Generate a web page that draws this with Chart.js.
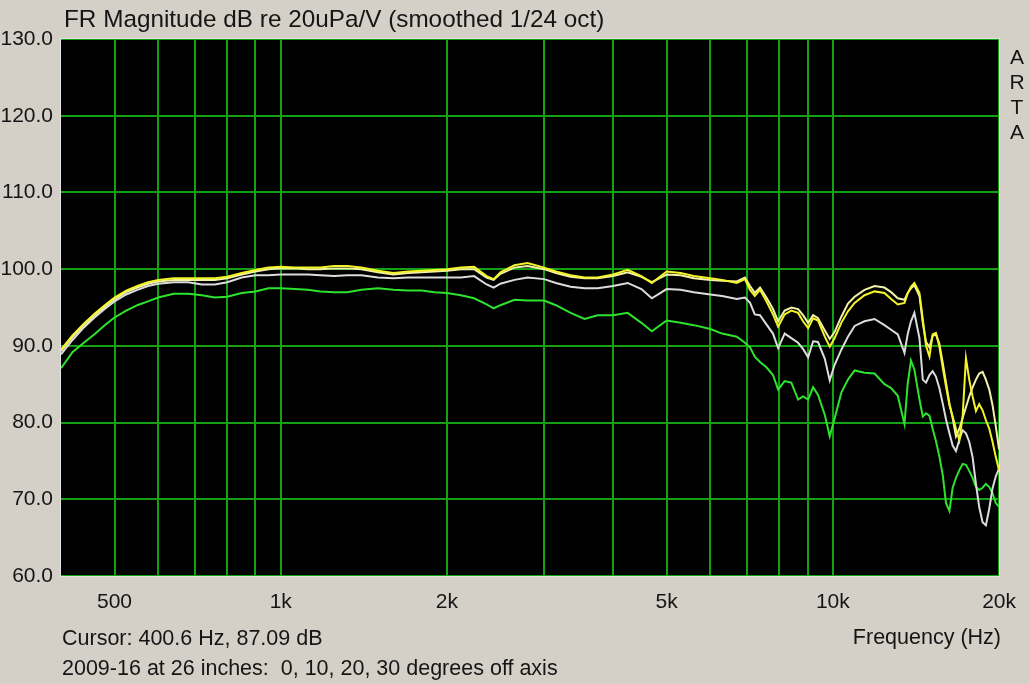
<!DOCTYPE html>
<html><head><meta charset="utf-8">
<script src="https://cdn.jsdelivr.net/npm/chart.js@4/dist/chart.umd.min.js"></script>
<style>
html,body{margin:0;padding:0;background:#d4d0c8;}
#wrap{position:relative;width:1030px;height:684px;overflow:hidden;font-family:"Liberation Sans",Arial,sans-serif;color:#151515;}
canvas{position:absolute;left:0;top:0;}
.t{position:absolute;white-space:pre;line-height:1;}
</style></head><body>
<div id="wrap">
<canvas id="c" width="1030" height="684"></canvas>
<div class="t" style="left:64px;top:7px;font-size:24.3px">FR Magnitude dB re 20uPa/V (smoothed 1/24 oct)</div>
<div class="t" style="left:1008px;top:44px;font-size:21px;line-height:25px;text-align:center;width:18px">A<br>R<br>T<br>A</div>
<div class="t" style="left:62px;top:628px;font-size:21.5px">Cursor: 400.6 Hz, 87.09 dB</div>
<div class="t" style="right:29px;top:627px;font-size:21.5px">Frequency (Hz)</div>
<div class="t" style="left:62px;top:658px;font-size:21.5px">2009-16 at 26 inches:  0, 10, 20, 30 degrees off axis</div>
</div>
<script>
const freqs = [400,420,440,460,480,500,525,550,575,600,640,680,720,760,800,850,900,950,1000,
1060,1120,1180,1250,1320,1400,1500,1600,1700,1800,1900,2000,
2120,2240,2360,2430,2500,2650,2800,3000,3150,3350,3550,3750,4000,
4250,4500,4700,5000,5300,5600,6000,6300,6700,
6930,7080,7220,7380,7580,7790,7960,8180,8410,8650,
8830,9020,9210,9400,9670,9870,10070,10360,10650,10950,
11410,11900,12400,12750,13110,13480,13660,13850,14050,14350,
14550,14750,14960,15160,15370,15590,15810,16030,16260,16480,
16710,16950,17180,17420,17660,17910,18160,18410,18670,18930,
19200,19460,19730,20000];

const deg0 = [89.5,91.4,92.9,94.2,95.3,96.3,97.2,97.8,98.3,98.6,98.8,98.8,98.8,98.8,99.0,99.5,99.9,100.2,100.3,
100.2,100.2,100.2,100.4,100.4,100.2,99.8,99.5,99.7,99.8,99.9,100.0,
100.2,100.3,99.1,98.7,99.6,100.5,100.8,100.2,99.7,99.2,98.9,98.9,99.3,
99.9,99.1,98.2,99.7,99.5,99.1,98.8,98.6,98.2,
98.7,97.3,96.5,97.3,95.8,94.1,92.5,94.1,94.6,94.3,
93.2,92.3,93.6,93.3,91.2,89.9,91.0,93.0,94.5,95.6,
96.6,97.1,96.9,96.1,95.4,95.6,96.8,97.7,98.2,96.9,
93.5,90.0,88.6,91.5,91.7,89.9,87.2,84.7,82.3,80.8,
79.2,77.7,80.8,88.4,85.6,83.4,81.5,82.4,81.6,80.3,
79.2,77.5,75.5,73.8];

const deg10 = [89.3,91.2,92.7,94.0,95.1,96.1,97.0,97.6,98.1,98.4,98.6,98.6,98.6,98.6,98.8,99.3,99.7,100.0,100.1,
100.1,100.0,100.0,100.1,100.1,100.0,99.6,99.3,99.5,99.6,99.7,99.8,
100.0,100.0,98.9,98.6,99.4,100.2,100.4,100.0,99.5,99.0,98.8,98.8,99.1,
99.6,99.0,98.3,99.3,99.2,98.8,98.6,98.5,98.4,
98.9,97.8,96.9,97.6,96.3,94.8,93.2,94.6,95.0,94.8,
94.0,93.0,94.0,93.6,92.0,90.9,91.8,93.8,95.5,96.4,
97.3,97.8,97.6,97.0,96.2,96.0,96.9,97.5,97.9,96.5,
93.0,90.5,89.8,91.3,91.5,90.3,87.8,85.2,82.5,80.6,
78.2,79.2,80.6,82.0,83.4,84.6,85.6,86.4,86.6,85.6,
84.3,82.3,79.5,76.5];

const deg20 = [88.9,90.8,92.4,93.7,94.8,95.8,96.7,97.3,97.8,98.1,98.3,98.3,98.0,98.0,98.3,98.9,99.2,99.2,99.3,
99.3,99.3,99.2,99.1,99.2,99.2,98.9,98.8,98.9,98.9,98.9,98.9,
98.9,99.1,98.0,97.6,98.1,98.6,98.9,98.7,98.2,97.7,97.5,97.5,97.8,
98.2,97.4,96.2,97.4,97.3,97.0,96.7,96.5,96.1,
96.3,95.6,94.1,94.0,92.8,91.6,89.7,91.6,91.0,90.4,
89.6,88.5,90.6,90.5,88.3,85.5,87.5,89.5,91.2,92.6,
93.2,93.5,92.7,92.1,91.5,89.1,91.5,93.2,94.3,91.0,
85.6,85.2,86.2,86.7,86.0,84.5,82.5,80.4,78.6,77.0,
76.3,77.8,79.0,78.6,77.5,75.5,72.0,69.0,67.0,66.6,
68.8,71.4,73.0,74.0];

const deg30 = [87.1,89.2,90.4,91.5,92.7,93.7,94.6,95.3,95.8,96.3,96.8,96.8,96.6,96.3,96.4,96.9,97.1,97.5,97.5,
97.4,97.3,97.1,97.0,97.0,97.3,97.5,97.3,97.2,97.2,97.0,96.9,
96.6,96.2,95.4,94.9,95.3,96.0,95.9,95.9,95.3,94.3,93.5,94.0,94.0,
94.3,93.0,91.9,93.3,93.0,92.7,92.2,91.6,91.2,
90.4,89.8,88.6,87.9,87.2,86.2,84.3,85.4,85.2,83.0,
83.4,83.0,84.6,83.6,81.0,78.2,80.5,83.9,85.6,86.8,
86.5,86.4,85.0,84.5,83.5,79.8,85.0,88.1,86.9,83.0,
80.8,81.2,80.9,79.2,77.6,75.6,73.2,69.5,68.5,71.5,
72.8,73.8,74.6,74.5,73.7,72.8,71.6,71.2,71.5,72.0,
71.6,70.8,69.5,69.0];

const seriesNames = ['0 deg','10 deg','20 deg','30 deg'];
const seriesColors = ['#f4f428','#f2f2a8','#dcdcdc','#2ee22e'];
const yTickValues = [60,70,80,90,100,110,120,130];
const xGridValues = [500,600,700,800,900,1000,2000,3000,4000,5000,6000,7000,8000,9000,10000,20000];
const xTickLabels = {500:'500',1000:'1k',2000:'2k',5000:'5k',10000:'10k',20000:'20k'};
const gridColor = '#13a013';

const allSeries = [deg0, deg10, deg20, deg30];
const datasets = allSeries.map((vals, k) => ({
  label: seriesNames[k],
  data: freqs.map((f, i) => ({x: f, y: vals[i]})),
  borderColor: seriesColors[k],
  borderWidth: 2,
  pointRadius: 0,
  tension: 0,
  fill: false
}));

const frame = {
  id: 'frame',
  beforeDraw(chart) {
    const a = chart.chartArea, ctx = chart.ctx;
    ctx.save(); ctx.fillStyle = '#000'; ctx.fillRect(a.left, a.top, a.right - a.left, a.bottom - a.top); ctx.restore();
  },
  beforeDatasetsDraw(chart) {
    const a = chart.chartArea, ctx = chart.ctx, xs = chart.scales.x, ys = chart.scales.y;
    ctx.save(); ctx.strokeStyle = gridColor; ctx.lineWidth = 2;
    ctx.beginPath();
    xGridValues.forEach(v => { const px = Math.round(xs.getPixelForValue(v)); ctx.moveTo(px, a.top); ctx.lineTo(px, a.bottom); });
    yTickValues.forEach(v => { const py = Math.round(ys.getPixelForValue(v)); ctx.moveTo(a.left, py); ctx.lineTo(a.right, py); });
    ctx.stroke(); ctx.restore();
  },
  afterDraw(chart) {
    const a = chart.chartArea, ctx = chart.ctx;
    ctx.save(); ctx.strokeStyle = '#e4e4e4'; ctx.lineWidth = 1;
    ctx.strokeRect(Math.round(a.left) - 0.5, Math.round(a.top) - 0.5, Math.round(a.right - a.left) + 1, Math.round(a.bottom - a.top) + 1);
    ctx.restore();
  }
};

const tickFont = {family: '"Liberation Sans", Arial, sans-serif', size: 21};
new Chart(document.getElementById('c'), {
  type: 'line',
  data: {datasets},
  options: {
    responsive: false, animation: false, devicePixelRatio: 1,
    layout: {padding: {left: 0, top: 39, right: 28.5, bottom: 0}},
    plugins: {legend: {display: false}, tooltip: {enabled: false}, title: {display: false}},
    scales: {
      x: {
        type: 'logarithmic', min: 400, max: 20000,
        afterBuildTicks: s => { s.ticks = xGridValues.map(v => ({value: v})); },
        afterFit: s => { s.height = 108; },
        ticks: {autoSkip: false, maxRotation: 0, minRotation: 0, padding: 14, color: '#151515', font: tickFont,
          callback: v => xTickLabels[v] || ''},
        grid: {display: false, drawTicks: false},
        border: {display: false}
      },
      y: {
        type: 'linear', min: 60, max: 130,
        afterBuildTicks: s => { s.ticks = yTickValues.map(v => ({value: v})); },
        afterFit: s => { s.width = 61; },
        ticks: {padding: 8, color: '#151515', font: tickFont, callback: v => Number(v).toFixed(1)},
        grid: {display: false, drawTicks: false},
        border: {display: false}
      }
    }
  },
  plugins: [frame]
});
</script>
</body></html>
